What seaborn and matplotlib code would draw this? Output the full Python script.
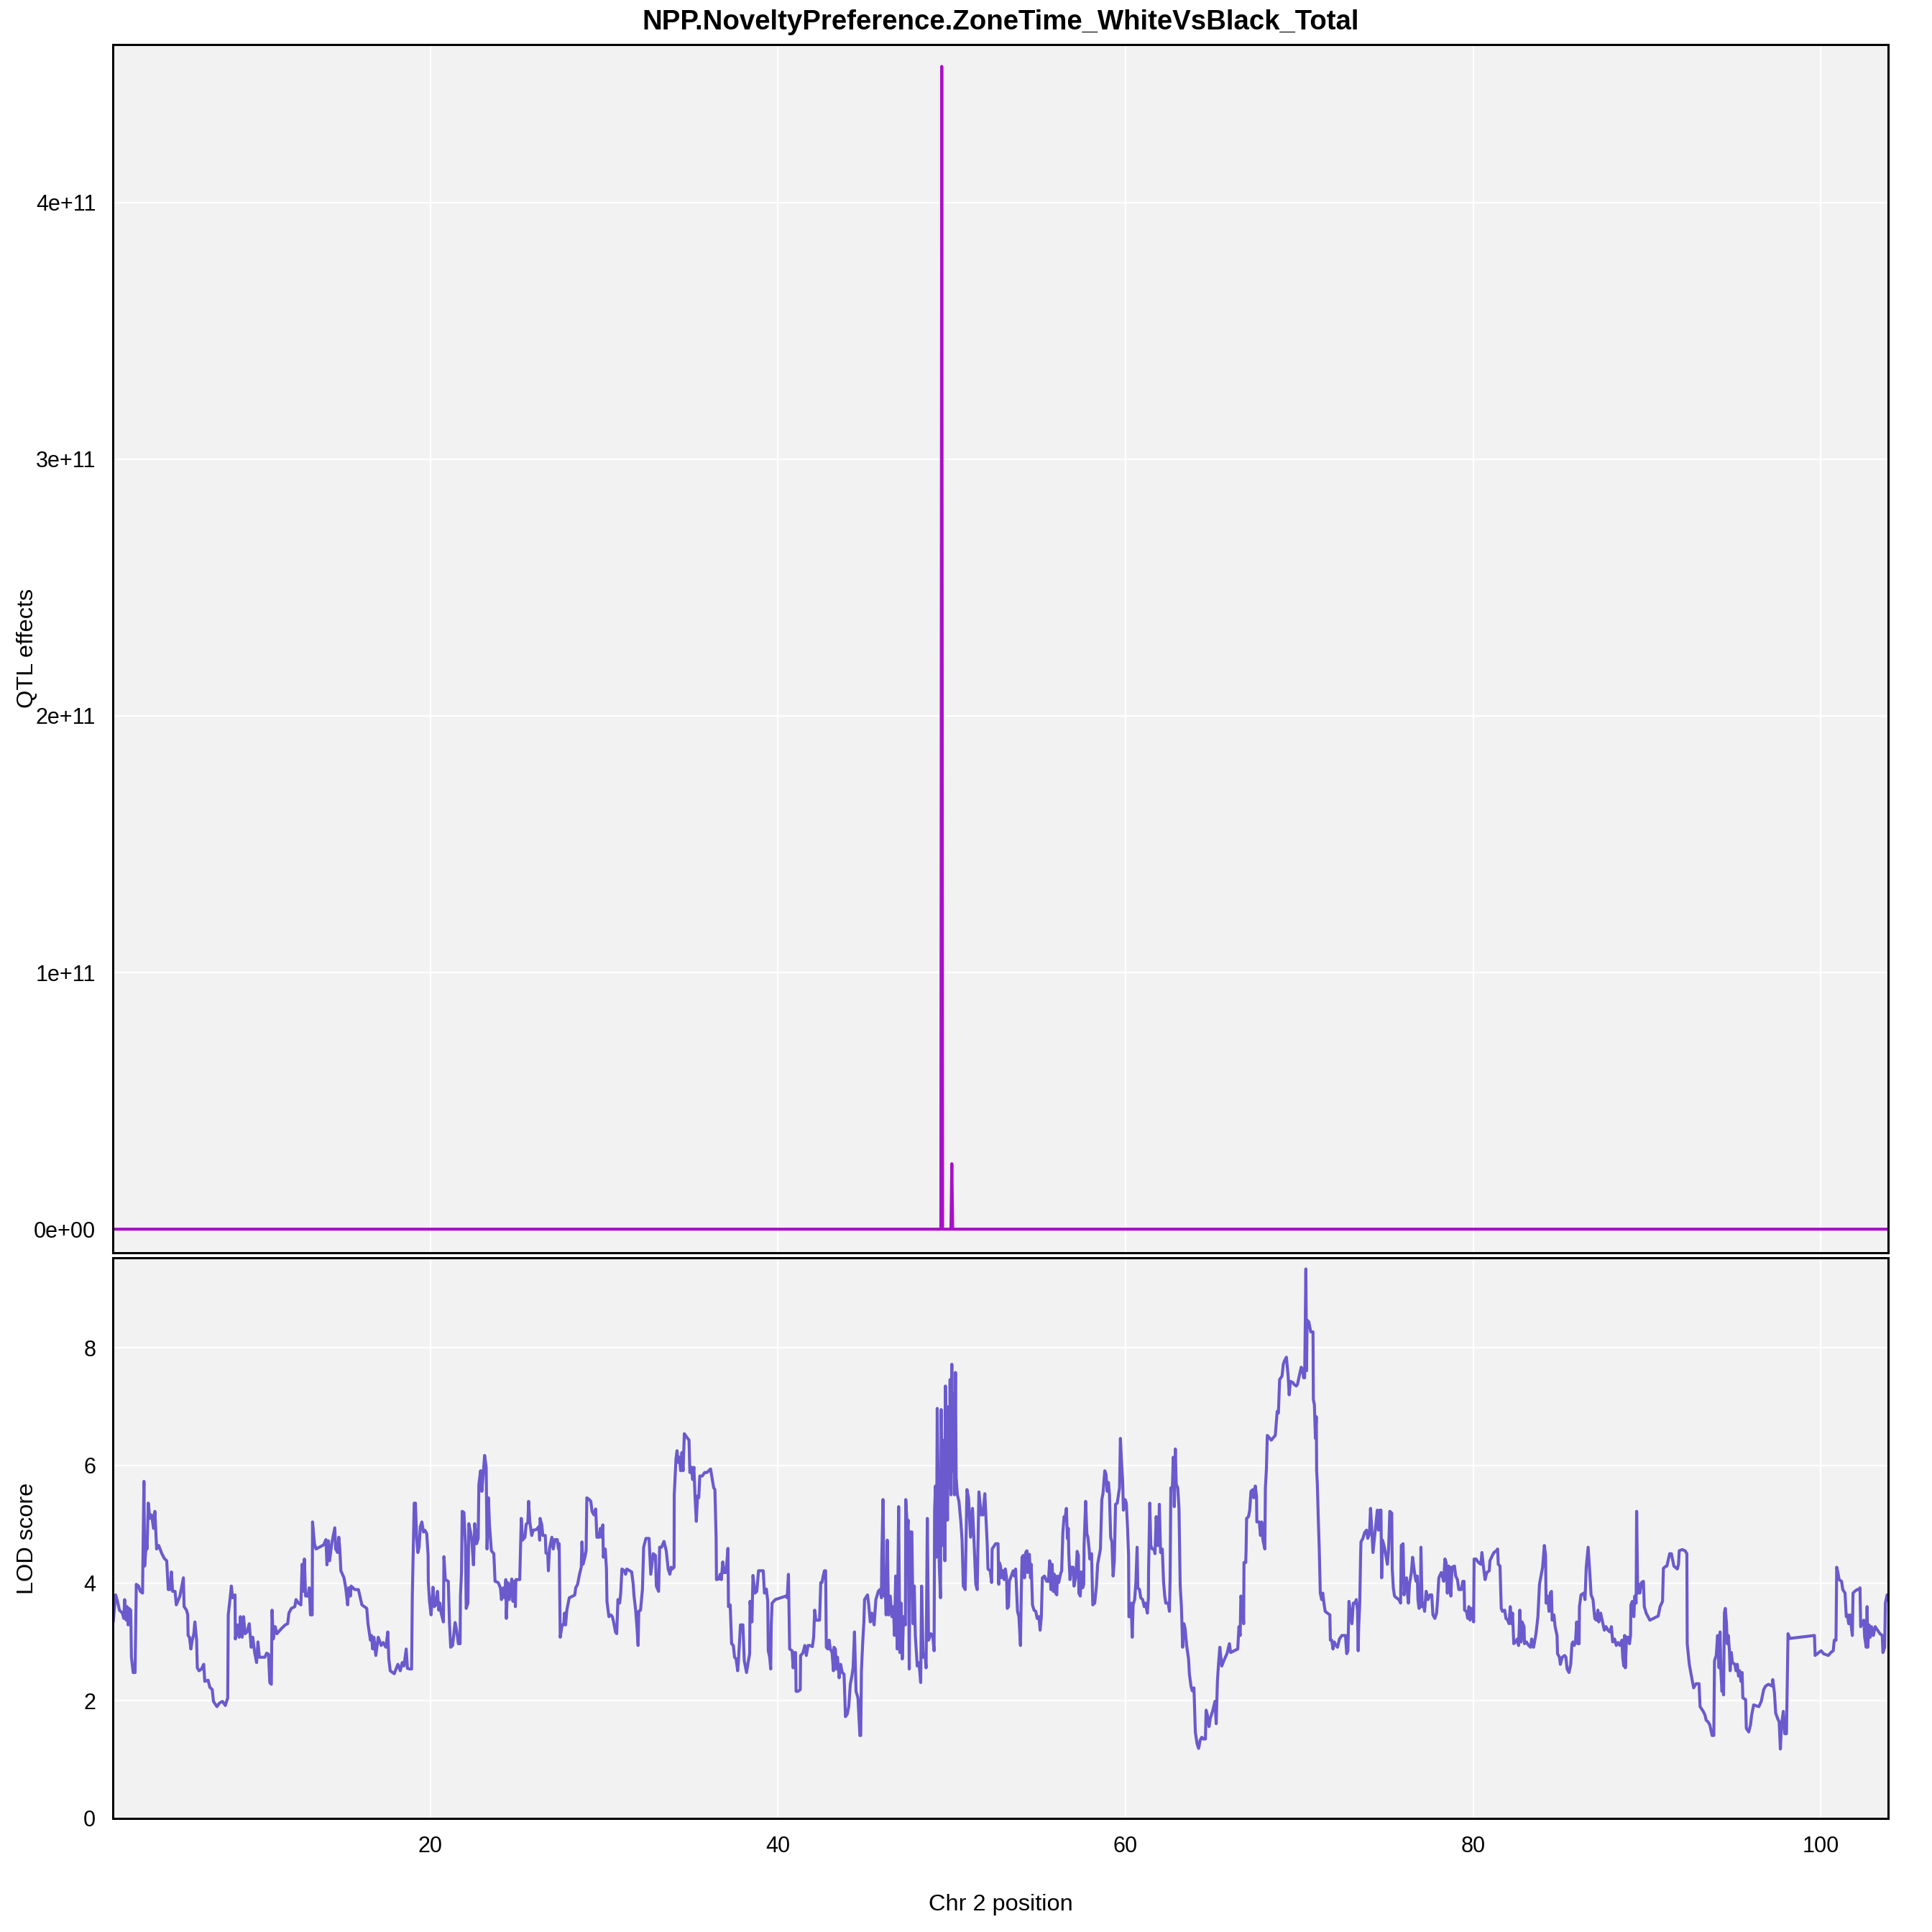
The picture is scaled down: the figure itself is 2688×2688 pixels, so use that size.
import numpy as np
import pandas as pd
import seaborn as sns
import matplotlib.pyplot as plt

# QTL effect trace (flat at zero apart from two spikes)
qtl_pos = [1.74, 49.38, 49.43, 49.48, 49.96, 50.01, 50.06, 103.88]
qtl_effect = [0, 0, 4.53e11, 0, 0, 2.55e10, 0, 0]
effect_ticks = [0, 1e11, 2e11, 3e11, 4e11]
effect_labels = ["0e+00", "1e+11", "2e+11", "3e+11", "4e+11"]

# LOD profile in six stretches
pos_a = [1.76,1.90,2.01,2.12,2.29,2.37,2.42,2.51,2.56,2.62,2.67,2.77,2.81,2.91,3.02,3.09,3.22,3.32,3.45,3.47,3.53,3.57,3.67,3.71,3.78,3.87,3.97,4.08,4.16,4.26,4.38,4.56,4.70,4.84,4.93,5.02,5.11,5.18,5.32,5.39,5.60,5.80,5.84,5.98,6.05,6.07,6.15,6.23,6.31,6.40,6.46,6.56,6.60,6.70,6.84,6.97,7.03,7.22,7.32,7.46,7.53,7.73,7.87,8.05,8.21,8.35,8.38,8.49,8.56,8.63,8.77,8.79,8.90,9.01,9.08,9.18,9.26,9.35,9.46,9.59,9.70,9.79,9.90,10.01,10.09,10.17,10.35,10.49,10.59,10.70,10.77,10.86,10.90,10.97,11.08,11.18,11.45,11.66,11.80,11.87,12.01,12.21,12.28,12.42,12.56,12.63,12.70,12.76,12.83,12.97,13.04,13.11,13.21,13.23,13.34,13.43,13.87,14.00,14.06,14.14,14.21,14.35,14.51,14.56,14.67,14.74,14.80,14.86,15.04,15.14,15.25,15.31,15.41,15.45,15.66,15.87,16.07,16.35,16.42,16.56,16.62,16.69,16.76,16.87,17.01,17.18,17.29,17.45,17.56,17.62,17.70,17.93,18.14,18.28,18.39,18.49,18.62,18.69,18.83]
lod_a = [3.34,3.80,3.69,3.54,3.49,3.40,3.72,3.37,3.60,3.29,3.57,3.54,2.74,2.48,2.48,3.98,3.95,3.86,3.83,4.35,5.73,4.29,4.70,4.58,5.36,5.10,5.16,4.93,5.22,4.58,4.64,4.50,4.42,4.38,3.89,3.89,4.19,3.86,3.86,3.63,3.78,4.09,3.60,3.54,3.46,3.11,3.08,2.88,3.03,3.14,3.34,3.03,2.56,2.51,2.54,2.62,2.33,2.35,2.23,2.19,1.99,1.90,1.96,1.99,1.92,2.05,3.46,3.75,3.95,3.75,3.80,3.05,3.29,3.08,3.43,3.08,3.43,3.14,3.17,3.31,2.91,3.08,2.82,2.65,3.00,2.74,2.74,2.74,2.81,2.79,2.31,2.28,3.54,3.05,3.26,3.14,3.23,3.29,3.31,3.49,3.57,3.60,3.72,3.66,3.63,4.32,3.86,4.41,3.78,3.78,3.92,3.46,3.46,5.04,4.67,4.58,4.65,4.74,4.31,4.72,4.38,4.70,4.94,4.58,4.52,4.78,4.58,4.21,4.09,3.92,3.63,3.92,3.78,3.95,3.89,3.89,3.63,3.57,3.31,3.03,3.11,2.88,3.08,2.77,3.08,2.94,2.99,2.91,3.17,2.71,2.51,2.46,2.62,2.51,2.65,2.59,2.88,2.55,2.54]

pos_b = [18.93,18.97,19.08,19.15,19.22,19.29,19.36,19.43,19.52,19.61,19.69,19.80,19.88,19.89,19.96,20.05,20.16,20.24,20.32,20.42,20.49,20.56,20.63,20.76,20.79,20.87,21.04,21.11,21.18,21.29,21.43,21.52,21.62,21.72,21.74,21.80,21.84,21.94,22.03,22.07,22.17,22.22,22.32,22.39,22.49,22.56,22.67,22.76,22.80,22.90,22.97,23.04,23.13,23.22,23.27,23.35,23.41,23.52,23.66,23.73,23.91,24.04,24.10,24.21,24.28,24.35,24.38,24.46,24.55,24.69,24.76,24.83,24.90,24.93,25.15,25.17,25.24,25.31,25.45,25.52,25.62,25.66,25.73,25.84,25.93,26.11,26.25,26.30,26.32,26.42,26.48,26.62,26.66,26.76,26.80,26.86,27.00,27.08,27.17,27.31,27.38,27.42,27.48,27.59,27.68,27.73,27.79,27.86,28.00,28.21,28.32,28.37,28.48,28.59,28.69,28.73,28.79,28.90,28.97,29.01,29.15,29.24,29.31,29.42,29.52,29.59,29.72,29.79,29.86,29.93,29.96,30.07,30.14,30.17,30.28,30.39,30.48,30.55,30.66,30.73,30.80,30.90,30.96,31.03,31.17,31.24,31.31,31.59,31.68,31.72,31.82,31.90,31.96,32.00,32.10,32.21,32.28,32.41,32.59,32.69,32.83,32.96,33.01,33.14,33.20,33.31,33.45,33.58,33.69,33.79,33.86,33.93,34.03,34.04,34.14,34.20,34.27,34.34,34.41,34.48,34.55,34.62,34.76,34.89,34.94,35.03,35.10,35.17,35.24,35.31,35.38,35.45,35.51,35.65,35.79]
lod_b = [2.54,3.78,5.36,5.36,4.76,4.52,4.61,4.96,5.04,4.87,4.90,4.84,4.47,4.03,3.69,3.46,3.93,3.60,3.63,3.86,3.54,3.66,3.49,3.34,4.45,4.06,4.03,3.31,2.91,2.94,3.33,3.20,2.97,2.97,3.78,4.18,5.22,5.20,4.64,3.57,3.66,5.01,4.87,4.73,4.31,5.01,4.67,4.76,5.68,5.91,5.56,5.82,6.17,5.97,4.58,5.45,4.99,4.55,4.50,4.03,4.01,3.92,3.72,3.92,3.75,4.06,3.40,4.01,3.72,4.07,3.69,4.03,3.60,4.06,4.06,4.29,5.10,4.73,4.78,5.00,5.03,5.39,5.04,4.81,4.90,4.91,4.96,4.73,5.10,4.99,4.81,4.81,4.51,4.50,4.21,4.58,4.78,4.58,4.74,4.74,4.58,4.67,3.08,3.29,3.29,3.49,3.29,3.54,3.75,3.78,3.80,3.92,3.98,4.15,4.27,4.70,4.32,4.44,4.55,5.45,5.42,5.39,5.22,5.16,5.26,4.78,4.78,4.93,4.78,4.99,4.44,4.58,4.24,3.69,3.43,3.46,3.43,3.34,3.17,3.14,3.72,3.66,3.83,4.24,4.21,4.15,4.24,4.19,3.98,3.80,3.54,3.23,2.94,3.52,3.54,3.89,4.61,4.76,4.76,4.15,4.50,4.47,3.95,3.86,4.61,4.61,4.71,4.55,4.24,4.15,4.27,4.24,4.27,5.50,6.11,6.25,6.05,6.14,5.91,6.22,5.91,6.54,6.48,6.43,5.88,5.97,5.76,5.97,5.45,5.05,5.48,5.45,5.82,5.82,5.88]

pos_c = [35.92,36.13,36.31,36.38,36.45,36.47,36.61,36.68,36.75,36.83,36.91,37.02,37.13,37.16,37.26,37.34,37.44,37.51,37.60,37.69,37.74,37.85,37.99,38.07,38.20,38.29,38.38,38.40,38.51,38.57,38.68,38.79,38.89,39.02,39.16,39.23,39.34,39.42,39.45,39.53,39.59,39.62,39.67,39.85,40.47,40.54,40.61,40.68,40.82,40.88,40.95,41.02,41.05,41.16,41.29,41.31,41.44,41.55,41.64,41.74,41.85,41.99,42.06,42.12,42.19,42.40,42.47,42.54,42.61,42.68,42.75,42.79,42.88,42.95,43.02,43.12,43.20,43.23,43.31,43.37,43.43,43.53,43.61,43.71,43.81,43.89,43.99,44.08,44.17,44.26,44.33,44.41,44.50,44.61,44.72,44.77,44.81,44.88,44.95,44.99,45.16,45.23,45.32,45.41,45.54,45.64,45.78,45.87,45.96,45.98,46.05,46.12,46.19,46.23,46.30,46.37,46.47,46.56,46.65,46.71,46.78,46.87,46.95,47.02,47.09,47.16,47.23,47.34,47.36,47.45,47.50,47.56,47.61,47.71,47.78,47.85,47.91,48.02,48.12,48.22,48.27,48.36,48.47,48.53,48.60,48.67,48.81,48.91,48.99,49.02,49.07,49.13,49.17,49.22,49.29,49.36,49.40,49.46,49.50,49.57,49.61,49.64,49.71,49.76,49.82,49.87,49.91,49.96,50.01,50.06,50.12,50.16,50.22,50.26,50.33,50.42,50.53,50.60,50.67,50.78,50.88,50.97,51.09,51.20,51.29,51.39,51.47,51.57,51.70,51.80,51.91,52.05,52.09,52.22,52.30,52.33,52.53,52.67,52.71]
lod_c = [5.88,5.94,5.62,5.59,4.76,4.06,4.07,4.15,4.06,4.36,4.18,4.18,4.59,3.60,3.63,2.97,2.94,2.74,2.71,2.51,2.71,3.29,3.29,2.68,2.48,2.65,2.80,3.69,3.34,4.13,3.83,3.86,4.21,4.21,4.21,3.83,3.90,3.69,2.85,2.74,2.54,3.29,3.66,3.72,3.78,3.75,4.15,2.88,2.85,2.56,2.82,2.82,2.16,2.16,2.19,2.77,2.81,2.94,2.77,2.94,2.94,2.92,3.08,3.54,3.37,3.37,4.01,4.01,4.12,4.21,4.21,2.91,2.88,3.03,2.88,2.82,2.51,2.91,2.88,2.54,2.74,2.39,2.62,2.48,2.45,1.73,1.77,1.90,2.28,2.42,2.56,3.17,2.16,2.05,1.41,1.41,2.51,2.97,3.34,3.72,3.80,3.63,3.34,3.49,3.29,3.72,3.86,3.89,3.75,4.41,5.42,3.78,3.83,3.46,4.73,3.46,3.78,3.43,3.60,3.11,4.12,2.88,5.30,2.82,3.66,2.71,3.43,3.29,5.42,4.93,5.07,2.54,4.87,4.87,3.31,3.95,3.11,2.59,2.65,2.31,3.95,2.74,2.80,2.56,5.10,3.03,3.14,3.11,2.85,5.24,5.65,4.44,6.97,5.76,4.29,3.75,6.95,5.76,4.64,6.43,4.38,7.35,5.91,5.07,7.00,5.62,7.46,5.50,7.72,5.91,7.23,5.50,7.58,5.79,5.50,5.39,5.04,4.73,3.95,3.89,5.59,5.45,4.78,5.27,4.70,3.98,3.89,5.55,5.16,5.16,5.52,4.64,4.24,4.21,4.01,4.58,4.67,4.67,3.98]

pos_d = [52.74,52.81,52.88,52.95,53.02,53.09,53.16,53.20,53.27,53.32,53.43,53.54,53.61,53.68,53.75,53.79,53.87,53.96,54.01,54.05,54.12,54.19,54.26,54.33,54.37,54.47,54.54,54.58,54.65,54.74,54.84,54.92,55.02,55.09,55.16,55.22,55.34,55.47,55.57,55.64,55.71,55.78,55.85,55.91,55.98,56.05,56.08,56.16,56.26,56.33,56.40,56.47,56.53,56.60,56.66,56.71,56.74,56.81,56.88,56.99,57.04,57.15,57.22,57.29,57.32,57.40,57.46,57.54,57.60,57.62,57.71,57.78,57.84,57.91,57.95,58.05,58.12,58.23,58.33,58.40,58.51,58.56,58.64,58.71,58.81,58.88,58.95,59.02,59.08,59.15,59.22,59.29,59.36,59.43,59.53,59.61,59.66,59.71,59.77,59.84,59.88,59.98,60.05,60.12,60.18,60.20,60.30,60.33,60.39,60.44,60.53,60.60,60.67,60.71,60.81,60.88,60.99,61.08,61.15,61.26,61.32,61.33,61.40,61.46,61.54,61.64,61.70,61.77,61.84,61.91,61.95,62.02,62.12,62.19,62.26,62.32,62.46,62.53,62.57,62.61,62.70,62.75,62.81,62.87,62.92,63.01,63.08,63.15,63.22,63.29,63.36,63.43,63.52,63.63,63.68,63.77,63.84,63.94,64.02,64.12,64.21,64.30,64.39,64.49,64.60,64.64,64.71,64.81,64.88,65.01,65.15,65.22,65.29,65.36,65.43,65.54,65.70,65.84,65.98,66.05,66.25,66.46,66.53,66.60,66.64,66.74,66.80,66.82,66.92,66.94,66.97,67.08,67.15,67.22,67.33,67.38,67.47,67.54,67.56,67.70,67.77,67.84,67.91,68.02,68.05,68.11,68.16,68.25,68.39,68.53,68.62,68.66,68.73,68.80,68.87,69.01,69.08,69.15,69.26,69.36,69.42,69.49,69.63]
lod_d = [4.35,4.29,4.09,4.21,4.06,4.24,4.09,3.57,3.60,4.03,4.12,4.21,4.12,4.24,3.78,3.52,3.43,2.94,3.89,4.44,4.47,4.09,4.52,4.55,4.18,4.49,4.09,4.32,3.63,3.54,3.52,3.40,3.43,3.20,3.43,4.09,4.12,4.03,4.03,4.38,3.89,4.32,3.86,4.15,3.83,3.80,4.12,4.01,4.15,4.21,4.87,5.13,5.10,5.27,4.76,4.93,4.50,4.06,4.27,4.27,3.95,4.12,4.54,4.47,3.83,3.78,4.19,3.92,3.98,4.64,5.39,4.84,4.78,4.58,4.41,4.50,3.63,3.66,3.95,4.32,4.50,4.58,5.42,5.53,5.91,5.85,5.56,5.71,5.50,4.78,4.70,4.12,4.38,5.34,5.36,5.53,5.62,6.46,6.08,5.73,5.24,5.42,5.36,4.93,4.47,3.43,3.43,3.66,3.08,3.63,3.72,4.01,4.61,3.92,3.89,3.75,3.72,3.60,3.66,3.49,3.75,4.21,5.36,4.64,4.58,4.58,4.50,5.13,4.64,4.64,5.34,4.52,4.58,4.03,3.78,3.66,3.66,3.52,4.09,5.62,5.62,6.14,5.30,6.28,5.68,5.62,5.27,3.95,3.60,2.91,3.31,3.23,2.94,2.71,2.45,2.25,2.17,2.22,1.47,1.27,1.19,1.33,1.38,1.35,1.35,1.84,1.76,1.56,1.70,1.82,1.99,1.61,2.33,2.65,2.91,2.59,2.71,2.80,2.97,2.82,2.85,2.88,3.26,3.11,3.78,3.63,3.31,4.35,4.35,4.55,5.10,5.13,5.24,5.56,5.59,5.45,5.65,5.48,5.04,5.04,4.81,5.04,4.73,4.58,5.62,5.94,6.51,6.48,6.43,6.48,6.51,6.66,6.92,6.89,7.46,7.52,7.72,7.78,7.84,7.52,7.20,7.43,7.41]

pos_e = [69.69,69.83,69.90,69.97,70.11,70.18,70.25,70.31,70.38,70.42,70.45,70.55,70.66,70.79,70.81,70.87,70.93,70.98,71.00,71.04,71.10,71.15,71.21,71.29,71.35,71.42,71.49,71.62,71.76,71.79,71.87,71.94,72.01,72.11,72.20,72.31,72.45,72.66,72.73,72.80,72.86,72.93,73.03,73.11,73.21,73.28,73.35,73.39,73.42,73.48,73.53,73.55,73.66,73.76,73.87,73.94,74.04,74.10,74.17,74.24,74.35,74.49,74.56,74.63,74.70,74.74,74.79,74.90,75.00,75.07,75.14,75.21,75.32,75.35,75.41,75.48,75.59,75.73,75.83,75.87,75.97,76.03,76.10,76.17,76.24,76.28,76.34,76.45,76.52,76.59,76.66,76.72,76.79,76.83,76.89,76.97,77.00,77.07,77.14,77.21,77.30,77.41,77.52,77.62,77.69,77.80,77.90,77.96,78.03,78.17,78.31,78.38,78.45,78.52,78.59,78.65,78.72,78.79,78.93,79.00,79.10,79.18,79.32,79.41,79.48,79.51,79.62,79.69,79.76,79.83,79.89,79.96,80.03,80.06,80.17,80.31,80.45,80.51,80.58,80.69,80.79,80.93,80.97,81.11,81.20,81.34,81.41,81.45,81.55,81.62,81.69,81.82,81.89,81.99,82.07,82.14,82.21,82.27,82.34,82.45,82.54,82.62,82.69,82.76,82.82,82.93,82.96,83.07,83.20,83.31,83.37,83.48,83.62,83.73,83.82,83.89,84.00,84.10,84.17,84.20,84.28,84.33,84.37,84.44,84.51,84.55,84.65,84.72,84.83,84.86,84.97,85.02,85.13,85.27,85.34,85.41,85.52,85.62,85.69,85.75,85.82,85.89,85.96,86.03,86.10,86.12,86.21,86.37,86.44,86.51,86.62]
lod_e = [7.38,7.35,7.38,7.48,7.67,7.64,7.49,7.49,9.34,7.61,8.47,8.44,8.27,8.27,7.12,7.03,6.46,6.83,5.91,5.68,5.04,4.58,3.83,3.72,3.83,3.66,3.52,3.49,3.46,3.03,3.03,2.88,3.00,2.94,2.91,3.05,3.11,3.11,2.80,2.85,3.69,3.54,3.31,3.66,3.66,3.72,3.54,2.85,3.26,3.66,4.47,4.70,4.76,4.86,4.90,4.76,4.84,5.27,4.93,4.52,4.84,5.24,4.90,5.24,5.24,4.09,4.73,4.61,4.44,4.32,4.58,5.22,5.19,4.24,3.92,3.78,3.75,3.72,3.66,4.64,4.67,3.80,4.01,4.09,3.78,3.66,3.98,4.18,4.44,4.27,4.12,4.03,4.12,3.72,3.57,3.60,4.61,3.60,3.66,3.52,3.86,3.72,3.80,3.80,3.46,3.40,3.49,3.72,4.09,4.18,4.03,4.41,4.35,3.83,4.29,4.27,3.78,4.27,4.29,4.12,4.06,3.89,3.89,4.03,4.03,3.54,3.52,3.40,3.60,3.37,3.57,3.54,3.34,4.41,4.41,4.35,4.32,4.52,4.32,4.06,4.18,4.21,4.38,4.47,4.52,4.55,4.58,4.32,4.29,3.57,3.52,3.54,3.40,3.37,3.31,3.60,3.31,3.49,2.97,3.00,3.05,2.94,3.54,3.00,3.34,3.26,2.97,3.00,2.94,2.91,3.05,2.91,3.14,3.43,3.98,4.09,4.27,4.64,4.47,3.66,3.78,3.66,3.52,3.83,3.86,3.37,3.46,3.26,3.11,2.80,2.74,2.62,2.74,2.77,2.74,2.54,2.48,2.62,2.97,3.00,2.94,3.00,3.34,2.97,2.97,3.60,3.80,3.83,3.72,4.27,4.61]

pos_f = [86.72,86.79,86.90,87.00,87.09,87.18,87.23,87.34,87.45,87.55,87.65,87.76,87.87,87.96,88.03,88.14,88.24,88.34,88.45,88.56,88.61,88.67,88.72,88.76,88.83,88.93,89.00,89.06,89.08,89.16,89.25,89.30,89.38,89.41,89.47,89.52,89.59,89.69,89.80,89.85,89.96,90.17,90.65,90.76,90.90,90.95,91.06,91.15,91.31,91.41,91.55,91.75,91.82,91.86,92.03,92.20,92.30,92.32,92.44,92.58,92.69,92.83,93.00,93.06,93.24,93.34,93.41,93.52,93.62,93.75,93.85,93.89,93.99,94.07,94.15,94.21,94.26,94.32,94.37,94.41,94.46,94.51,94.58,94.62,94.68,94.75,94.79,94.86,94.92,95.06,95.13,95.20,95.27,95.34,95.41,95.48,95.52,95.68,95.72,95.86,95.96,96.03,96.14,96.44,96.58,96.72,96.83,96.99,97.20,97.24,97.34,97.41,97.52,97.61,97.68,97.75,97.85,97.93,98.03,98.12,98.23,99.64,99.68,99.89,100.03,100.16,100.44,100.58,100.72,100.78,100.88,100.92,100.99,101.06,101.20,101.27,101.40,101.47,101.54,101.61,101.68,101.75,101.82,101.86,101.96,102.09,102.20,102.26,102.30,102.40,102.48,102.53,102.62,102.67,102.71,102.78,102.85,102.92,103.03,103.13,103.27,103.41,103.54,103.58,103.68,103.72,103.82]
lod_f = [4.15,3.80,3.72,3.40,3.37,3.54,3.34,3.49,3.34,3.20,3.26,3.20,3.17,3.26,3.00,3.05,2.94,2.99,2.94,3.03,2.74,2.59,3.11,2.56,3.08,3.08,2.97,3.11,3.63,3.69,3.43,3.78,3.66,5.22,3.83,3.98,3.83,4.01,4.03,3.60,3.49,3.37,3.44,3.60,3.69,4.25,4.28,4.29,4.50,4.50,4.29,4.24,4.32,4.55,4.57,4.55,4.50,2.97,2.62,2.39,2.22,2.29,2.29,1.90,1.82,1.76,1.67,1.64,1.59,1.41,1.41,2.68,2.77,3.11,2.56,3.17,2.48,2.16,2.51,2.10,3.49,3.57,3.31,2.97,3.11,2.85,2.51,2.82,2.65,2.62,2.51,2.62,2.42,2.51,2.33,2.48,2.05,2.02,1.53,1.47,1.59,1.76,1.93,1.90,1.99,2.19,2.25,2.28,2.25,2.36,2.13,1.79,1.70,1.64,1.18,1.61,1.82,1.44,1.44,3.14,3.06,3.11,2.77,2.82,2.85,2.80,2.77,2.82,2.85,3.03,3.03,4.27,4.18,4.06,4.03,3.89,3.83,3.43,3.46,3.31,3.46,3.29,3.11,3.83,3.86,3.89,3.89,3.92,3.26,3.34,3.37,3.08,2.91,3.60,2.91,3.29,3.08,3.26,3.11,3.26,3.20,3.14,3.11,2.82,2.91,3.66,3.80]

chr_ticks = [20, 40, 60, 80, 100]
lod_ticks = [0, 2, 4, 6, 8]

TITLE = "NPP.NoveltyPreference.ZoneTime_WhiteVsBlack_Total"
EFFECT_COLOR = "#AA0FC8"
LOD_COLOR = "#6A5ACD"

segments = [(pos_a, lod_a), (pos_b, lod_b), (pos_c, lod_c),
            (pos_d, lod_d), (pos_e, lod_e), (pos_f, lod_f)]
for i, (p, l) in enumerate(segments):
    if len(p) != len(l):
        raise ValueError(f"segment {i}: {len(p)} positions vs {len(l)} scores")

lod_df = pd.DataFrame({
    "pos": np.concatenate([p for p, _ in segments]),
    "lod": np.concatenate([l for _, l in segments]),
})
eff_df = pd.DataFrame({"pos": qtl_pos, "effect": qtl_effect})

sns.set_style("darkgrid", {
    "axes.facecolor": "#F2F2F2",
    "axes.edgecolor": "black",
    "grid.color": "white",
    "axes.linewidth": 1.1,
    "grid.linewidth": 0.7,
    "text.color": "black",
    "axes.labelcolor": "black",
    "xtick.color": "black",
    "ytick.color": "black",
})
plt.rcParams["font.family"] = ["Liberation Sans", "DejaVu Sans"]

fig = plt.figure(figsize=(13.44, 13.44), dpi=200)
ax_top = fig.add_axes([0.0584, 0.35156, 0.9189, 0.6255])
ax_bot = fig.add_axes([0.0584, 0.05878, 0.9189, 0.2902])

sns.lineplot(data=eff_df, x="pos", y="effect", ax=ax_top, color=EFFECT_COLOR,
             lw=1.5, estimator=None, sort=False)
sns.lineplot(data=lod_df, x="pos", y="lod", ax=ax_bot, color=LOD_COLOR,
             lw=1.5, estimator=None, sort=False)

xlim = (1.74, 103.88)
for ax in (ax_top, ax_bot):
    ax.set_xlim(*xlim)
    ax.set_xticks(chr_ticks)
    ax.set_xlabel("")
    ax.set_ylabel("")
    ax.tick_params(length=0, pad=8.5, labelsize=11, colors="black")
    for s in ax.spines.values():
        s.set_visible(True)
        s.set_color("black")
        s.set_linewidth(1.1)

ax_top.set_ylim(-0.092e11, 4.616e11)
ax_top.set_yticks(effect_ticks)
ax_top.set_yticklabels(effect_labels)
ax_top.set_xticklabels([])

ax_bot.set_ylim(0, 9.53)
ax_bot.set_yticks(lod_ticks)
ax_bot.set_xticklabels([str(t) for t in chr_ticks])

fig.text(0.5179, 0.9885, TITLE, ha="center", va="center", color="black",
         fontsize=13.8, fontweight="bold")
fig.text(0.0141, 0.6644, "QTL effects", rotation=90, ha="center", va="center",
         color="black", fontsize=11.7)
fig.text(0.0141, 0.2039, "LOD score", rotation=90, ha="center", va="center",
         color="black", fontsize=11.7)
fig.text(0.5179, 0.0141, "Chr 2 position", ha="center", va="center",
         color="black", fontsize=11.7)

fig.savefig("out.png", dpi=200)
